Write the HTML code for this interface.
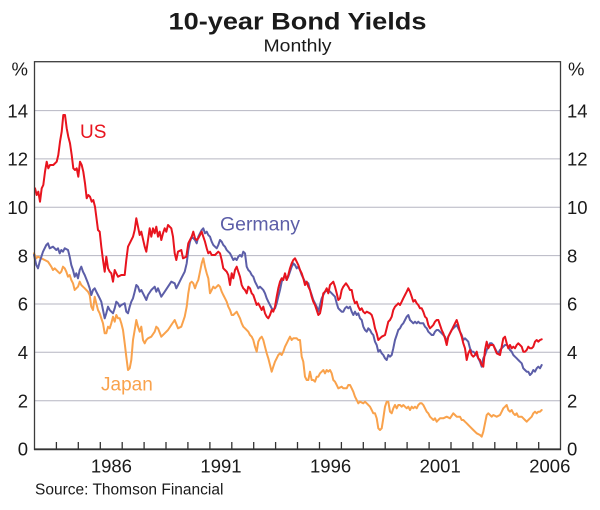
<!DOCTYPE html>
<html>
<head>
<meta charset="utf-8">
<style>
html,body{margin:0;padding:0;background:#fff;}
svg{display:block;}
text{font-family:"Liberation Sans",Arial,sans-serif;}
</style>
</head>
<body>
<svg width="600" height="510" viewBox="0 0 600 510" xmlns="http://www.w3.org/2000/svg">
<rect x="0" y="0" width="600" height="510" fill="#fff"/>
<!-- Title -->
<text x="297.5" y="29.5" font-size="24.5" font-weight="bold" text-anchor="middle" fill="#1a1a1a" textLength="258" lengthAdjust="spacingAndGlyphs">10-year Bond Yields</text>
<text x="297.5" y="51.7" font-size="17.5" text-anchor="middle" fill="#1a1a1a" textLength="68" lengthAdjust="spacingAndGlyphs">Monthly</text>

<!-- Gridlines -->
<g stroke="#b6b6c2" stroke-width="1">
<line x1="34.5" y1="110.6" x2="560.5" y2="110.6"/>
<line x1="34.5" y1="158.9" x2="560.5" y2="158.9"/>
<line x1="34.5" y1="207.3" x2="560.5" y2="207.3"/>
<line x1="34.5" y1="255.6" x2="560.5" y2="255.6"/>
<line x1="34.5" y1="304.0" x2="560.5" y2="304.0"/>
<line x1="34.5" y1="352.3" x2="560.5" y2="352.3"/>
<line x1="34.5" y1="400.7" x2="560.5" y2="400.7"/>
</g>

<!-- Series -->
<g fill="none" stroke-width="2" stroke-linejoin="round" stroke-linecap="round">
<polyline stroke="#f9a24c" points="34,253.3 36.3,258.3 38,256.7 41.3,258.3 44.7,260 48,261.7 51.3,266.7 53,270 54.7,268.3 58,271.7 59.7,273.3 61.3,271.7 63,266.7 64.7,268.3 66.3,271.7 68,276.7 69.7,275 71.3,280 73,283.3 74.7,290 76.3,288.3 78,286.7 79.7,281.7 81.3,285 83,286.7 84.7,288.3 86.3,290 88,291.7 89.7,295 91.3,306.7 93,310 94.7,296.7 96.3,303.3 98,310 99.7,313.3 101.3,318.3 103,323.3 104.7,333.3 106.3,333.3 108,326.7 109.7,328.3 111.3,323.3 113,316.7 114.7,321.7 116.3,315 118,318.3 119.7,318.3 121.3,323.3 123,330 124.7,343.3 126.3,356.7 128,370 129.7,368.3 131.3,360 133,340 134.7,330 136.3,320 138,326.7 139.7,331.7 141.3,326.7 143,340 144.7,343.3 146.3,340 148,338.3 151.3,336.7 154.7,331.7 156.3,326.7 158,328.3 161.3,336.7 164.7,333.3 168,330 171.3,325 174.7,320 178,328.3 181.3,326.7 184.7,316.7 186.7,306.7 188.3,293.3 190,283.3 191.7,281.7 193.3,283.3 195,288.3 196.7,283.3 198.3,280 200,271.7 201.7,263.3 203.3,258.3 205,266.7 206.7,273.3 208.3,278.3 210,293.3 211.7,290 213.3,286.7 215,288.3 216.7,286.7 218.3,285 220,286.7 221.7,291.7 223.3,295 225,298.3 226.7,301.7 228.3,306.7 230,310 231.7,315 233.3,315 235,313.3 236.7,311.7 238.3,315 240,318.3 241.7,323.3 243.3,326.7 245,328.3 248.3,331.7 250,335 251.7,336.7 253.3,340 255,346.7 256.7,351.7 258.3,341.7 260,338.3 261.7,336.7 263.3,340 265,346.7 266.7,353.3 268.3,358.3 270,365 271.7,371.7 273.3,366.7 275,361.7 276.7,358.3 278.3,355 280,353.3 281.7,355 283.3,351.7 285,346.7 286.7,343.3 288.3,340 290,336.7 291.7,340 293.3,338.3 296.7,338.3 298.3,340 300,340 301.7,356.7 303.3,361.7 305,376.7 306.7,380 308.3,380 310,371.7 311.7,380 313.3,380 315,381.7 316.7,376.7 318.3,376.7 320,373.3 321.7,371.7 323.3,370 325,373.3 326.7,370 328.3,371.7 330,370 331.7,373.3 333.3,380 335,381.7 336.7,385 338.3,388.3 341.7,386.7 343.3,388.3 346.7,388.3 348.3,385 350,385 351.7,388.3 353.3,391.7 355,396.7 356.7,400 358.3,403.3 360,401.7 363.3,403.3 365,401.7 366.7,403.3 370,406.7 371.7,410 373.3,413.3 375,413.3 376.7,418.3 378.3,428.3 380,430 381.7,428.3 383.3,418.3 385,406.7 386.7,401.7 388.3,401.7 390,411.7 391.7,413.3 393.3,408.3 395,405 396.7,408.3 398.3,405 400,405 401.7,406.7 403.3,405 405,406.7 406.7,408.3 408.3,406.7 410,410 411.7,406.7 413.3,408.3 415,406.7 416.7,408.3 418.3,405 420,403.3 421.7,403.3 423.3,405 425,408.3 426.7,411.7 428.3,413.3 430,416.7 431.7,418.3 433.3,420 435,418.3 436.7,421.7 438.3,420 440,418.3 443.3,418.3 446.7,416.7 450,418.3 453.3,413.3 455,415 456.7,416.7 460,416.7 461.7,420 463.3,420 465,421.7 466.7,423.3 470,426.7 473.3,430 476.7,433.3 480,435 481.7,436.7 483.3,431.7 485,423.3 486.7,415 488.3,413.3 490,415 491.7,416.7 493.3,415 496.7,416.7 500,415 501.7,411.7 503.3,408.3 505,406.7 506.7,405 508.3,410 510,411.7 511.7,410 513.3,413.3 515,415 516.7,413.3 518.3,416.7 520,416.7 521.7,416.7 523.3,418.3 525,420 526.7,421.7 528.3,420 530,418.3 531.7,416.7 533.3,413.3 535,411.7 536.7,413.3 538.3,411.7 540,411.7 541.7,410"/>
<polyline stroke="#5c5ea8" points="34,255 36.3,265 38,268.3 39.7,261.7 43,251.7 46.3,245 48,243.3 49.7,248.3 53,246.7 56.3,250 58,248.3 59.7,253.3 61.3,250 63,251.7 64.7,248.3 68,250 69.7,256.7 71.3,265 73,270 74.7,276.7 76.3,273.3 78,278.3 79.7,270 81.3,266.7 83,271.7 84.7,275 88,283.3 89.7,288.3 91.3,295 93,290 94.7,288.3 96.3,291.7 98,295 99.7,298.3 101.3,301.7 103,310 104.7,318.3 106.3,313.3 108,306.7 109.7,310 111.3,311.7 113,313.3 114.7,308.3 116.3,301.7 118,303.3 119.7,306.7 121.3,305 124.7,303.3 126.3,311.7 128,313.3 129.7,306.7 131.3,301.7 133,298.3 134.7,291.7 136.3,285 138,286.7 139.7,291.7 141.3,290 143,293.3 144.7,296.7 146.3,300 148,295 151.3,290 154.7,286.7 156.3,291.7 158,288.3 161.3,296.7 164.7,291.7 168,286.7 171.3,281.7 174.7,283.3 176.3,288.3 178,285 181.3,278.3 184.7,271.7 186.7,263.3 188.3,250 190,241.7 191.7,236.7 193.3,238.3 195,240 196.7,243.3 198.3,236.7 200,233.3 201.7,230 203.3,228.3 205,233.3 206.7,231.7 208.3,235 210,236.7 211.7,241.7 213.3,245 215,246.7 216.7,248.3 218.3,245 220,240 221.7,241.7 223.3,245 225,246.7 226.7,250 228.3,251.7 230,253.3 231.7,256.7 233.3,260 235,258.3 236.7,260 238.3,256.7 240,255 241.7,256.7 243.3,251.7 245,253.3 246.7,266.7 248.3,270 250,271.7 251.7,275 253.3,276.7 255,281.7 256.7,285 258.3,288.3 260,286.7 261.7,288.3 263.3,290 265,293.3 266.7,298.3 268.3,301.7 270,305 271.7,308.3 273.3,310 275,308.3 276.7,303.3 278.3,296.7 280,290 281.7,281.7 283.3,278.3 285,275 286.7,280 288.3,276.7 290,271.7 291.7,266.7 293.3,263.3 295,265 296.7,268.3 298.3,266.7 300,270 301.7,275 303.3,278.3 305,281.7 308.3,283.3 310,290 311.7,295 313.3,300 315,303.3 316.7,306.7 318.3,311.7 320,305 321.7,298.3 323.3,295 325,291.7 328.3,290 331.7,293.3 335,296.7 336.7,303.3 338.3,308.3 340,310 341.7,311.7 343.3,311.7 345,308.3 346.7,306.7 348.3,308.3 350,306.7 351.7,311.7 353.3,315 355,311.7 356.7,315 358.3,313.3 360,318.3 361.7,320 363.3,326.7 365,330 366.7,331.7 368.3,328.3 370,330 371.7,333.3 373.3,335 375,341.7 376.7,345 378.3,351.7 380,350 381.7,353.3 383.3,355 385,358.3 386.7,360 388.3,355 390,356.7 391.7,355 393.3,348.3 395,340 396.7,335 398.3,330 400,328.3 401.7,325 403.3,323.3 405,320 406.7,316.7 408.3,315 410,320 411.7,321.7 413.3,323.3 415,321.7 416.7,323.3 418.3,321.7 420,323.3 423.3,323.3 425,326.7 426.7,328.3 428.3,331.7 430,333.3 431.7,335 433.3,335 435,331.7 436.7,330 438.3,330 440,331.7 441.7,333.3 443.3,335 445,336.7 446.7,341.7 448.3,336.7 450,333.3 451.7,330 453.3,328.3 455,326.7 456.7,325 458.3,328.3 460,331.7 461.7,335 463.3,340 465,338.3 466.7,340 468.3,341.7 470,348.3 471.7,351.7 473.3,351.7 475,353.3 476.7,355 478.3,358.3 480,361.7 481.7,366.7 483.3,358.3 485,355 486.7,350 488.3,346.7 490,343.3 491.7,343.3 493.3,345 495,348.3 496.7,351.7 498.3,353.3 500,350 501.7,348.3 503.3,346.7 505,345 506.7,345 508.3,346.7 510,350 511.7,351.7 513.3,355 515,356.7 516.7,358.3 518.3,360 520,361.7 521.7,363.3 523.3,368.3 525,370 526.7,371.7 528.3,371.7 530,375 531.7,373.3 533.3,370 535,371.7 536.7,368.3 538.3,366.7 540,368.3 541.7,365"/>
<polyline stroke="#e8141e" points="35,188.3 36.7,195 38.3,191.7 40,201.7 41.7,188.3 43.3,185 45,171.7 46.7,161.7 48.3,168.3 50,165 53.3,165 56.7,161.7 58.3,155 60,141.7 61.7,131.7 63.3,115 65,115 66.7,128.3 68.3,136.7 70,143.3 71.7,155 73.3,168.3 75,170 76.7,168.3 78.3,176.7 80,161.7 81.7,165 83.3,171.7 85,183.3 86.7,198.3 88.3,195 90,196.7 91.7,201.7 93.3,200 95,206.7 96.3,216.7 98,230 99.7,231.7 101.3,246.7 103,260 104.7,271.7 106.3,256.7 108,268.3 109.7,271.7 111.3,273.3 113,281.7 114.7,270 116.3,273.3 118,276.7 121.3,275 124.7,275 126.3,260 128,246.7 129.7,243.3 133,236.7 134.7,230 136.3,218.3 138,226.7 139.7,235 141.3,231.7 144.7,246.7 146.3,251.7 148,240 149.7,228.3 151.3,236.7 153,228.3 154.7,233.3 156.3,226.7 158,236.7 159.7,231.7 161.3,240 163,233.3 164.7,228.3 166.3,231.7 168,225 171.3,228.3 173,236.7 174.7,253.3 176.3,260 178,251.7 181.3,250 183,258.3 186.3,256.7 188.3,243.3 190,240 191.7,236.7 193.3,231.7 195,238.3 196.7,240 198.3,238.3 200,235 201.7,231.7 203.3,236.7 205,241.7 206.7,248.3 208.3,253.3 210,251.7 211.7,255 215,255 218.3,251.7 220,253.3 221.7,260 223.3,268.3 225,270 226.7,271.7 228.3,275 230,285 231.7,273.3 233.3,278.3 235,270 236.7,266.7 238.3,271.7 240,276.7 241.7,285 243.3,288.3 245,290 246.7,293.3 248.3,286.7 250,288.3 251.7,293.3 253.3,295 255,300 256.7,305 258.3,303.3 261.7,310 263.3,306.7 265,313.3 266.7,316.7 268.3,318.3 270,315 271.7,310 273.3,311.7 275,306.7 276.7,296.7 278.3,288.3 280,281.7 281.7,278.3 283.3,280 285,273.3 286.7,280 288.3,275 290,268.3 291.7,263.3 293.3,260 295,258.3 296.7,261.7 298.3,265 300,270 301.7,273.3 303.3,278.3 305,285 306.7,281.7 308.3,286.7 310,290 311.7,296.7 313.3,301.7 315,305 316.7,310 318.3,315 320,313.3 321.7,305 323.3,293.3 325,291.7 326.7,288.3 328.3,293.3 330,285 331.7,283.3 333.3,281.7 335,286.7 336.7,293.3 338.3,300 340,298.3 341.7,290 343.3,286.7 346,283.3 348.3,286.7 350,290 351.7,290 353.3,298.3 355,303.3 356.7,301.7 358.3,306.7 360,310 361.7,308.3 363.3,311.7 365,313.3 366.7,311.7 370,313.3 371.7,315 373.3,320 375,328.3 376.7,333.3 378.3,340 380,338.3 381.7,336.7 385,335 386.7,328.3 388.3,321.7 390,320 391.7,316.7 393.3,310 395,306.7 396.7,305 398.3,303.3 400,305 401.7,301.7 403.3,298.3 405,295 406.7,291.7 408.3,288.3 410,291.7 411.7,296.7 413.3,301.7 415,300 416.7,303.3 418.3,305 420,308.3 421.7,308.3 423.3,311.7 425,316.7 426.7,318.3 428.3,325 430,328.3 431.7,326.7 433.3,325 435,321.7 436.7,320 438.3,320 440,325 441.7,330 443.3,333.3 445,338.3 446.7,345 448.3,336.7 450,333.3 451.7,330 453.3,326.7 455,323.3 456.7,320 458.3,325 460,331.7 461.7,336.7 463.3,343.3 465,348.3 466.7,360 468.3,353.3 470,350 471.7,355 473.3,356.7 475,355 476.7,351.7 478.3,358.3 480,360 481.7,365 483.3,366.7 485,350 486.7,341.7 488.3,348.3 490,345 493.3,345 496.7,353.3 500,355 501.7,346.7 503.3,338.3 505,336.7 506.7,343.3 508.3,348.3 510,345 511.7,348.3 513.3,346.7 515,348.3 516.7,345 518.3,343.3 520,345 521.7,346.7 523.3,351.7 525,351.7 526.7,350 528.3,346.7 530,348.3 531.7,348.3 533.3,346.7 535,341.7 536.7,340 538.3,341.7 540,340 541.7,339.3"/>
</g>

<!-- Frame -->
<rect x="34.5" y="61.7" width="526" height="387.6" fill="none" stroke="#3c3c3c" stroke-width="1.3"/>
<line x1="34" y1="449.3" x2="561" y2="449.3" stroke="#333" stroke-width="1.8"/>

<!-- X ticks -->
<g stroke="#333" stroke-width="1.3">
<line x1="56.4" y1="449" x2="56.4" y2="442"/>
<line x1="78.3" y1="449" x2="78.3" y2="442"/>
<line x1="100.3" y1="449" x2="100.3" y2="442"/>
<line x1="122.2" y1="449" x2="122.2" y2="442"/>
<line x1="144.1" y1="449" x2="144.1" y2="442"/>
<line x1="166.0" y1="449" x2="166.0" y2="442"/>
<line x1="187.9" y1="449" x2="187.9" y2="442"/>
<line x1="209.9" y1="449" x2="209.9" y2="442"/>
<line x1="231.8" y1="449" x2="231.8" y2="442"/>
<line x1="253.7" y1="449" x2="253.7" y2="442"/>
<line x1="275.6" y1="449" x2="275.6" y2="442"/>
<line x1="297.5" y1="449" x2="297.5" y2="442"/>
<line x1="319.5" y1="449" x2="319.5" y2="442"/>
<line x1="341.4" y1="449" x2="341.4" y2="442"/>
<line x1="363.3" y1="449" x2="363.3" y2="442"/>
<line x1="385.2" y1="449" x2="385.2" y2="442"/>
<line x1="407.1" y1="449" x2="407.1" y2="442"/>
<line x1="429.1" y1="449" x2="429.1" y2="442"/>
<line x1="451.0" y1="449" x2="451.0" y2="442"/>
<line x1="472.9" y1="449" x2="472.9" y2="442"/>
<line x1="494.8" y1="449" x2="494.8" y2="442"/>
<line x1="516.7" y1="449" x2="516.7" y2="442"/>
<line x1="538.7" y1="449" x2="538.7" y2="442"/>
</g>

<!-- X labels -->
<g font-size="18.5" fill="#1a1a1a" text-anchor="middle">
<text x="111.4" y="472.7">1986</text>
<text x="221.0" y="472.7">1991</text>
<text x="330.6" y="472.7">1996</text>
<text x="440.2" y="472.7">2001</text>
<text x="549.8" y="472.7">2006</text>
</g>

<!-- Y labels left -->
<g font-size="18.5" fill="#1a1a1a" text-anchor="end">
<text x="28" y="75.5">%</text>
<text x="28" y="117.3">14</text>
<text x="28" y="165.6">12</text>
<text x="28" y="214.0">10</text>
<text x="28" y="262.3">8</text>
<text x="28" y="310.7">6</text>
<text x="28" y="359.0">4</text>
<text x="28" y="407.4">2</text>
<text x="28" y="455.7">0</text>
</g>
<!-- Y labels right -->
<g font-size="18.5" fill="#1a1a1a" text-anchor="start">
<text x="568" y="75.5">%</text>
<text x="567" y="117.3">14</text>
<text x="567" y="165.6">12</text>
<text x="567" y="214.0">10</text>
<text x="567" y="262.3">8</text>
<text x="567" y="310.7">6</text>
<text x="567" y="359.0">4</text>
<text x="567" y="407.4">2</text>
<text x="567" y="455.7">0</text>
</g>

<!-- Series labels -->
<text x="80" y="138" font-size="19" fill="#e8141e">US</text>
<text x="220" y="230.7" font-size="19" fill="#5c5ea8" textLength="80" lengthAdjust="spacingAndGlyphs">Germany</text>
<text x="101" y="390.3" font-size="19" fill="#f9a24c">Japan</text>

<!-- Source -->
<text x="35" y="494.5" font-size="15.5" fill="#1a1a1a">Source: Thomson Financial</text>
</svg>
</body>
</html>
